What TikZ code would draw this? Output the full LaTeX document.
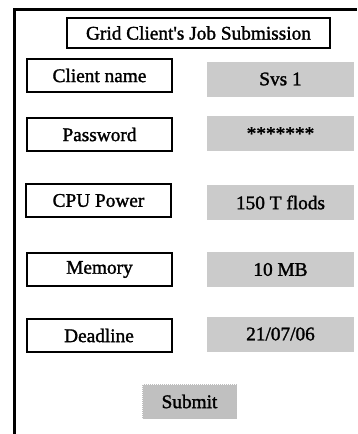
\documentclass[tikz,border=0pt]{standalone}
\usepackage{fontspec}
\setmainfont{Liberation Serif}[Ligatures=TeXOff, FakeBold=1.5]
\definecolor{fieldgray}{RGB}{203,203,203}
\definecolor{btngray}{RGB}{192,192,192}
\begin{document}
\begin{tikzpicture}[x=1pt,y=-1pt,
  font=\fontsize{19.3}{22}\selectfont,
  lbl/.style={draw, line width=2pt, minimum width=145pt, minimum height=33pt, inner sep=0pt},
  val/.style={fill=fieldgray, minimum width=147pt, minimum height=35pt, inner sep=0pt},
  btn/.style={fill=btngray, draw=gray!50, densely dotted, line width=1pt, minimum width=94pt, minimum height=34pt, inner sep=0pt}]
\useasboundingbox (0,0) rectangle (357,434);
% window frame
\draw[line width=2.5pt] (14.5,434) |- (357,9.5);
\node[draw, line width=2pt, minimum width=263pt, minimum height=30pt, inner sep=0pt] (title) at (198.5,33) {Grid Client's Job Submission};
% labels
\node[lbl] (lbl1) at (99.5,75.5) {Client name};
\node[lbl] (lbl2) at (99.5,134.5) {Password};
\node[lbl] (lbl3) at (98.5,200.5) {CPU Power};
\node[lbl] (lbl4) at (99.5,269.5) {Memory};
\node[lbl] (lbl5) at (99,335.5) {Deadline};
% values
\node[val] (val1) at (280.5,79) {Svs 1};
\node[val] (val2) at (280.5,133.5) {*******};
\node[val] (val3) at (280.5,202.5) {150 T flods};
\node[val] (val4) at (280.5,269.5) {10 MB};
\node[val] (val5) at (280.5,334) {21/07/06};
\node[btn] (submit) at (189.5,401.5) {Submit};
\end{tikzpicture}
\end{document}
